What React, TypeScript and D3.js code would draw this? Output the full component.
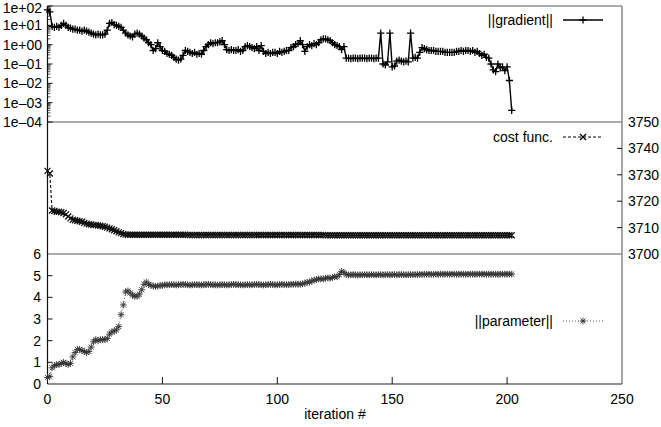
import React from 'react';
import * as d3 from 'd3';

// ---- data ----
const gradientNorm: number[] = [
  63, 50, 8.9, 7.9, 8.9, 7.9, 10, 12.6, 10, 7.9,
  7.1, 6.3, 6.3, 5.6, 5.6, 5.0, 5.6, 5.0, 4.5, 4.0,
  3.5, 3.2, 3.5, 3.2, 3.2, 3.5, 5.6, 12.6, 14, 11,
  10, 8.9, 7.9, 5.6, 4.0, 3.2, 2.8, 2.5, 3.5, 4.0,
  3.5, 2.8, 2.2, 1.8, 1.26, 1.0, 0.5, 0.63, 1.26, 0.79,
  0.5, 0.45, 0.35, 0.32, 0.28, 0.22, 0.18, 0.16, 0.18, 0.28,
  0.5, 0.45, 0.4, 0.35, 0.4, 0.32, 0.35, 0.32, 0.5, 0.79,
  1.0, 1.26, 1.12, 1.26, 1.26, 1.4, 1.6, 1.0, 0.56, 0.5,
  0.56, 0.5, 0.5, 0.56, 0.45, 0.5, 0.79, 0.89, 0.79, 0.71,
  0.63, 0.79, 0.5, 0.89, 0.45, 0.35, 0.4, 0.35, 0.4, 0.4,
  0.35, 0.45, 0.4, 0.45, 0.5, 0.5, 0.71, 0.79, 1.0, 1.12,
  1.6, 1.0, 0.45, 0.79, 1.0, 0.89, 1.12, 1.0, 1.26, 1.8,
  2.0, 2.0, 1.8, 1.6, 1.26, 1.0, 0.89, 0.79, 0.56, 0.79,
  0.2, 0.2, 0.19, 0.2, 0.2, 0.19, 0.2, 0.2, 0.2, 0.19,
  0.2, 0.2, 0.19, 0.2, 0.2, 4.0, 0.1, 0.089, 0.13, 4.0,
  0.071, 0.079, 0.14, 0.16, 0.14, 0.13, 0.14, 0.13, 4.0, 0.2,
  0.22, 0.2, 0.4, 0.71, 0.63, 0.56, 0.5, 0.5, 0.5, 0.45,
  0.45, 0.45, 0.45, 0.4, 0.4, 0.4, 0.4, 0.4, 0.45, 0.45,
  0.5, 0.45, 0.5, 0.5, 0.45, 0.5, 0.4, 0.45, 0.35, 0.28,
  0.32, 0.22, 0.2, 0.1, 0.05, 0.04, 0.1, 0.063, 0.071, 0.045,
  0.071, 0.014, 0.0004,
];

const costFunc: number[] = [
  3731.5, 3730.5, 3716.5, 3716.3, 3716.0, 3716.0, 3715.8, 3715.5, 3715.0, 3714.2,
  3713.5, 3713.0, 3712.8, 3712.6, 3712.4, 3712.2, 3711.8, 3711.5, 3711.3, 3711.2,
  3711.0, 3711.0, 3710.8, 3710.7, 3710.5, 3710.3, 3710.0, 3709.7, 3709.4, 3709.0,
  3708.6, 3708.2, 3707.9, 3707.6, 3707.4, 3707.3, 3707.3, 3707.3, 3707.3, 3707.3,
  3707.3, 3707.3, 3707.3, 3707.3, 3707.3, 3707.3, 3707.3, 3707.3, 3707.3, 3707.3,
  3707.3, 3707.3, 3707.3, 3707.3, 3707.3, 3707.3, 3707.3, 3707.3, 3707.3, 3707.3,
  3707.3, 3707.2, 3707.2, 3707.2, 3707.2, 3707.2, 3707.2, 3707.2, 3707.2, 3707.2,
  3707.2, 3707.2, 3707.2, 3707.2, 3707.2, 3707.2, 3707.2, 3707.2, 3707.2, 3707.2,
  3707.2, 3707.2, 3707.2, 3707.2, 3707.2, 3707.2, 3707.2, 3707.2, 3707.2, 3707.2,
  3707.2, 3707.2, 3707.2, 3707.2, 3707.2, 3707.2, 3707.2, 3707.2, 3707.2, 3707.2,
  3707.2, 3707.2, 3707.2, 3707.2, 3707.2, 3707.2, 3707.2, 3707.2, 3707.2, 3707.2,
  3707.2, 3707.2, 3707.2, 3707.2, 3707.2, 3707.2, 3707.2, 3707.2, 3707.2, 3707.2,
  3707.2, 3707.1, 3707.1, 3707.1, 3707.1, 3707.1, 3707.1, 3707.1, 3707.1, 3707.1,
  3707.1, 3707.1, 3707.1, 3707.1, 3707.1, 3707.1, 3707.1, 3707.1, 3707.1, 3707.1,
  3707.1, 3707.1, 3707.1, 3707.1, 3707.1, 3707.1, 3707.1, 3707.1, 3707.1, 3707.1,
  3707.1, 3707.1, 3707.1, 3707.1, 3707.1, 3707.1, 3707.1, 3707.1, 3707.1, 3707.1,
  3707.1, 3707.1, 3707.1, 3707.1, 3707.1, 3707.1, 3707.1, 3707.1, 3707.1, 3707.1,
  3707.1, 3707.1, 3707.1, 3707.1, 3707.1, 3707.1, 3707.1, 3707.1, 3707.1, 3707.1,
  3707.1, 3707.1, 3707.1, 3707.1, 3707.1, 3707.1, 3707.1, 3707.1, 3707.1, 3707.1,
  3707.1, 3707.1, 3707.1, 3707.1, 3707.1, 3707.1, 3707.1, 3707.1, 3707.1, 3707.1,
  3707.1, 3707.1, 3707.1,
];

const parameterNorm: number[] = [
  0.30, 0.35, 0.75, 0.85, 0.90, 0.90, 0.95, 1.00, 0.95, 0.90,
  0.95, 1.25, 1.45, 1.60, 1.60, 1.55, 1.50, 1.45, 1.50, 1.70,
  1.95, 2.05, 2.00, 2.05, 2.05, 2.05, 2.10, 2.30, 2.40, 2.45,
  2.50, 2.65, 3.20, 3.65, 4.25, 4.30, 4.20, 4.10, 4.05, 4.05,
  4.15, 4.35, 4.60, 4.70, 4.60, 4.55, 4.52, 4.50, 4.52, 4.55,
  4.55, 4.57, 4.58, 4.58, 4.59, 4.58, 4.57, 4.58, 4.59, 4.60,
  4.59, 4.58, 4.57, 4.58, 4.58, 4.59, 4.58, 4.57, 4.58, 4.59,
  4.60, 4.59, 4.58, 4.58, 4.57, 4.58, 4.59, 4.58, 4.57, 4.58,
  4.59, 4.60, 4.59, 4.58, 4.58, 4.57, 4.58, 4.59, 4.58, 4.58,
  4.59, 4.60, 4.59, 4.58, 4.57, 4.58, 4.59, 4.60, 4.59, 4.58,
  4.58, 4.59, 4.60, 4.59, 4.58, 4.59, 4.60, 4.60, 4.61, 4.60,
  4.61, 4.62, 4.65, 4.70, 4.70, 4.75, 4.80, 4.82, 4.85, 4.85,
  4.85, 4.88, 4.90, 4.88, 4.92, 4.95, 4.95, 5.05, 5.20, 5.15,
  5.05, 5.04, 5.04, 5.05, 5.04, 5.03, 5.04, 5.04, 5.05, 5.04,
  5.04, 5.05, 5.04, 5.04, 5.05, 5.05, 5.04, 5.05, 5.05, 5.04,
  5.05, 5.05, 5.04, 5.05, 5.05, 5.05, 5.04, 5.05, 5.05, 5.05,
  5.05, 5.05, 5.06, 5.06, 5.06, 5.06, 5.07, 5.06, 5.06, 5.07,
  5.06, 5.07, 5.06, 5.07, 5.07, 5.06, 5.07, 5.07, 5.06, 5.07,
  5.07, 5.07, 5.06, 5.07, 5.07, 5.07, 5.06, 5.07, 5.07, 5.07,
  5.07, 5.06, 5.07, 5.07, 5.07, 5.07, 5.06, 5.07, 5.07, 5.07,
  5.07, 5.07, 5.07,
];

const xTicks = [0, 50, 100, 150, 200, 250];
const gradTicks = [1e2, 1e1, 1e0, 1e-1, 1e-2, 1e-3, 1e-4];
const gradTickLabels = ['1e+02', '1e+01', '1e+00', '1e\u201301', '1e\u201302', '1e\u201303', '1e\u201304'];
const costTicks = [3700, 3710, 3720, 3730, 3740, 3750];
const paramTicks = [0, 1, 2, 3, 4, 5, 6];

const FONT = "'Liberation Sans', Arial, Helvetica, sans-serif";
const GRAY = '#8f8f8f';

const plus = (x: number, y: number, s: number) => `M${x - s},${y}h${2 * s}M${x},${y - s}v${2 * s}`;
const cross = (x: number, y: number, s: number) =>
  `M${x - s},${y - s}l${2 * s},${2 * s}M${x - s},${y + s}l${2 * s},${-2 * s}`;
const star = (x: number, y: number, s: number) => plus(x, y, s) + cross(x, y, s * 0.75);

export default function App() {
  const L = 47.5, R = 622;
  const T1 = 6, B1 = 122, B2 = 254, B3 = 384;

  const x = d3.scaleLinear().domain([0, 250]).range([L, R]);
  const yG = d3.scaleLog().domain([1e-4, 1e2]).range([B1, T1]);
  const yC = d3.scaleLinear().domain([3700, 3750]).range([B2, B1]);
  const yP = d3.scaleLinear().domain([0, 6]).range([B3, B2]);

  const idx = d3.range(gradientNorm.length);

  const lineG = d3.line<number>().x((i) => x(i)).y((i) => yG(gradientNorm[i]));
  const lineC = d3.line<number>().x((i) => x(i)).y((i) => yC(costFunc[i]));
  const lineP = d3.line<number>().x((i) => x(i)).y((i) => yP(parameterNorm[i]));

  const minorLog: number[] = [];
  for (let d = -4; d < 2; d++) for (let k = 2; k <= 9; k++) minorLog.push(k * Math.pow(10, d));

  const gMarkers = idx.map((i) => plus(x(i), yG(gradientNorm[i]), 3.6)).join('');
  const cMarkers = idx.map((i) => cross(x(i), yC(costFunc[i]), 3)).join('');
  const pMarkers = idx.map((i) => star(x(i), yP(parameterNorm[i]), 3.4)).join('');

  const lx1 = 563, lx2 = 603, lxm = 583;

  return (
    <svg width={661} height={427} style={{ position: 'absolute', left: 0, top: 0, background: '#fff' }}
      fontFamily={FONT} fontSize={14}>
      <rect x={0} y={0} width={661} height={427} fill="#fff" />
      {/* frame */}
      <line x1={L} x2={R} y1={T1} y2={T1} stroke={GRAY} strokeWidth={1.6} />
      <line x1={L} x2={R} y1={B1} y2={B1} stroke={GRAY} strokeWidth={1.6} />
      <line x1={L} x2={R} y1={B2} y2={B2} stroke={GRAY} strokeWidth={1.6} />
      <line x1={R} x2={R} y1={T1} y2={B3} stroke={GRAY} strokeWidth={1.6} />
      <line x1={L} x2={R} y1={B3} y2={B3} stroke="#222" strokeWidth={1.2} />
      <line x1={L} x2={L} y1={T1} y2={B3} stroke="#111" strokeWidth={1.2} />

      {/* top panel axis */}
      {gradTicks.map((v, k) => (
        <g key={'gt' + k}>
          <line x1={L} x2={L + 5} y1={yG(v)} y2={yG(v)} stroke="#111" strokeWidth={1} />
          <text x={42} y={yG(v) + (k === 0 ? 1.5 : 0)} textAnchor="end" dominantBaseline="central">{gradTickLabels[k]}</text>
        </g>
      ))}
      {minorLog.map((v, k) => (
        <line key={'gm' + k} x1={L} x2={L + 3} y1={yG(v)} y2={yG(v)} stroke="#111" strokeWidth={0.7} />
      ))}

      {/* middle panel right axis */}
      {costTicks.map((v) => (
        <g key={'ct' + v}>
          {v !== 3700 && v !== 3750 && (
            <line x1={R - 5} x2={R} y1={yC(v)} y2={yC(v)} stroke="#111" strokeWidth={1} />
          )}
          <text x={628} y={yC(v)} dominantBaseline="central">{v}</text>
        </g>
      ))}

      {/* bottom panel left axis */}
      {paramTicks.map((v) => (
        <g key={'pt' + v}>
          {v !== 0 && v !== 6 && (
            <line x1={L} x2={L + 5} y1={yP(v)} y2={yP(v)} stroke="#111" strokeWidth={1} />
          )}
          <text x={41} y={yP(v)} textAnchor="end" dominantBaseline="central">{v}</text>
        </g>
      ))}

      {/* x axis */}
      {xTicks.map((v) => (
        <g key={'xt' + v}>
          {v !== 0 && v !== 250 && (
            <line x1={x(v)} x2={x(v)} y1={B3} y2={B3 - 7} stroke="#111" strokeWidth={1} />
          )}
          <text x={x(v)} y={399} textAnchor="middle" dominantBaseline="central">{v}</text>
        </g>
      ))}
      <text x={335} y={414} textAnchor="middle" dominantBaseline="central">iteration #</text>

      {/* series */}
      <path d={lineG(idx) || ''} fill="none" stroke="#000" strokeWidth={1.4} />
      <path d={gMarkers} fill="none" stroke="#000" strokeWidth={1.3} />

      <path d={lineC(idx) || ''} fill="none" stroke="#000" strokeWidth={1.1} strokeDasharray="3,2" />
      <path d={cMarkers} fill="none" stroke="#111" strokeWidth={1.3} />

      <path d={lineP(idx) || ''} fill="none" stroke="#444" strokeWidth={0.9} strokeDasharray="1,2" />
      <path d={pMarkers} fill="none" stroke="#333" strokeWidth={0.9} />

      {/* legends */}
      <text x={553} y={20} textAnchor="end" dominantBaseline="central">||gradient||</text>
      <line x1={lx1} x2={lx2} y1={20} y2={20} stroke="#000" strokeWidth={1.4} />
      <path d={plus(lxm, 20, 3.6)} stroke="#000" strokeWidth={1.3} />

      <text x={553} y={137} textAnchor="end" dominantBaseline="central">cost func.</text>
      <line x1={lx1} x2={lx2} y1={137} y2={137} stroke="#000" strokeWidth={1.1} strokeDasharray="3,2" />
      <path d={cross(lxm, 137, 3)} stroke="#000" strokeWidth={1.3} />

      <text x={553} y={321} textAnchor="end" dominantBaseline="central">||parameter||</text>
      <line x1={lx1} x2={lx2} y1={321} y2={321} stroke="#444" strokeWidth={0.9} strokeDasharray="1,2" />
      <path d={star(lxm, 321, 3.4)} stroke="#333" strokeWidth={0.9} />
    </svg>
  );
}
